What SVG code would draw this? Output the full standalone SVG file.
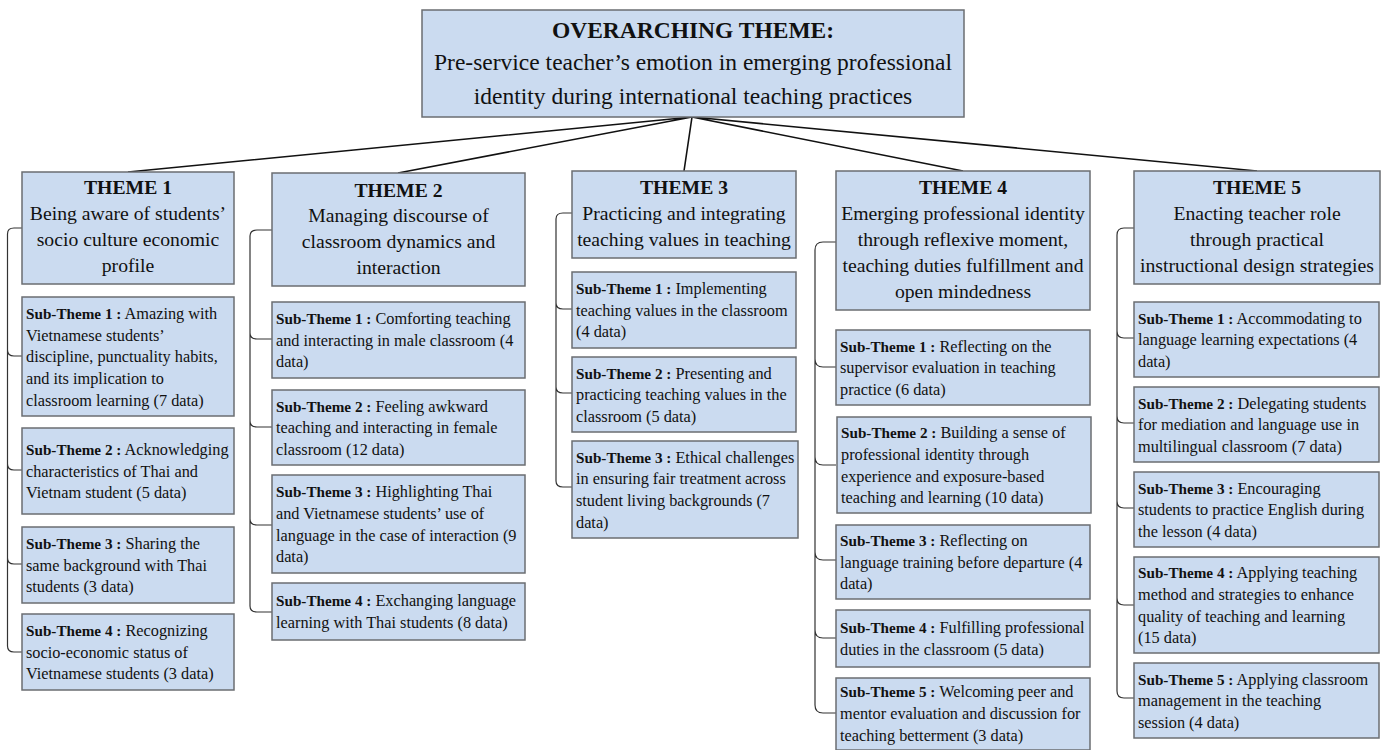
<svg xmlns="http://www.w3.org/2000/svg" width="1383" height="750" viewBox="0 0 1383 750">
<style>
.box{fill:#cbdbf0;stroke:#6b6e72;stroke-width:1.5}
.t{font-family:"Liberation Serif","Times New Roman",serif;fill:#111}
.top{font-size:23.5px;text-anchor:middle}
.th{font-size:19.7px;text-anchor:middle}
.st{font-size:16.3px}
.b{font-weight:bold}
.st .b{font-size:15.2px}
.main{fill:none;stroke:#111;stroke-width:1.6}
.br{fill:none;stroke:#333;stroke-width:1.2}
</style>
<rect width="1383" height="750" fill="#ffffff"/>
<g id="connectors">
<path class="main" d="M692 117 L128 172 M692 117 L398 173 M692 117 L684 171 M692 117 L963 171 M692 117 L1257 171"/>
<path class="br" d="M22 228 H14 Q7.5 228 7.5 234 V350 Q7.5 356 14 356 H22 M7.5 350 V464 Q7.5 470 14 470 H22 M7.5 464 V558 Q7.5 564 14 564 H22 M7.5 558 V646 Q7.5 652 14 652 H22"/>
<path class="br" d="M272 230 H257 Q250 230 250 236 V333 Q250 339 257 339 H272 M250 333 V421 Q250 427 257 427 H272 M250 421 V519 Q250 525 257 525 H272 M250 519 V606 Q250 612 257 612 H272"/>
<path class="br" d="M572 213 H563 Q556 213 556 219 V303 Q556 309 563 309 H572 M556 303 V387 Q556 393 563 393 H572 M556 387 V481 Q556 487 563 487 H572"/>
<path class="br" d="M836 242 H823 Q815 242 815 250 V359 Q815 367 823 367 H836 M815 359 V457 Q815 465 823 465 H836 M815 457 V552 Q815 560 823 560 H836 M815 552 V630 Q815 638 823 638 H836 M815 630 V705 Q815 713 823 713 H836"/>
<path class="br" d="M1134 228 H1124 Q1117 228 1117 235 V331 Q1117 338 1124 338 H1134 M1117 331 V416 Q1117 423 1124 423 H1134 M1117 416 V501 Q1117 508 1124 508 H1134 M1117 501 V598 Q1117 605 1124 605 H1134 M1117 598 V691 Q1117 698 1124 698 H1134"/>
</g>
<g id="overarching">
<rect class="box" x="422" y="10" width="542" height="107"/>
<text class="t top" x="693"><tspan class="b" x="693" y="38">OVERARCHING THEME:</tspan><tspan x="693" y="70">Pre-service teacher’s emotion in emerging professional</tspan><tspan x="693" y="104">identity during international teaching practices</tspan></text>
</g>
<g id="theme1">
<rect class="box" x="22" y="172" width="212" height="112"/>
<text class="t th" x="128"><tspan class="b" x="128" y="194">THEME 1</tspan><tspan x="128" y="220">Being aware of students’</tspan><tspan x="128" y="246">socio culture economic</tspan><tspan x="128" y="272">profile</tspan></text>
</g>
<g id="t1s1">
<rect class="box" x="22" y="297" width="212" height="119"/>
<text class="t st"><tspan x="26" y="318.8"><tspan class="b">Sub-Theme 1 :</tspan> Amazing with</tspan><tspan x="26" y="340.5">Vietnamese students’</tspan><tspan x="26" y="362.2">discipline, punctuality habits,</tspan><tspan x="26" y="383.9">and its implication to</tspan><tspan x="26" y="405.6">classroom learning (7 data)</tspan></text>
</g>
<g id="t1s2">
<rect class="box" x="22" y="428" width="212" height="86"/>
<text class="t st"><tspan x="26" y="455"><tspan class="b">Sub-Theme 2 :</tspan> Acknowledging</tspan><tspan x="26" y="476.7">characteristics of Thai and</tspan><tspan x="26" y="498.4">Vietnam student (5 data)</tspan></text>
</g>
<g id="t1s3">
<rect class="box" x="22" y="527" width="212" height="76"/>
<text class="t st"><tspan x="26" y="549"><tspan class="b">Sub-Theme 3 :</tspan> Sharing the</tspan><tspan x="26" y="570.7">same background with Thai</tspan><tspan x="26" y="592.4">students (3 data)</tspan></text>
</g>
<g id="t1s4">
<rect class="box" x="22" y="614" width="212" height="76"/>
<text class="t st"><tspan x="26" y="636"><tspan class="b">Sub-Theme 4 :</tspan> Recognizing</tspan><tspan x="26" y="657.7">socio-economic status of</tspan><tspan x="26" y="679.4">Vietnamese students (3 data)</tspan></text>
</g>
<g id="theme2">
<rect class="box" x="272" y="173" width="253" height="113"/>
<text class="t th" x="398.5"><tspan class="b" x="398.5" y="197">THEME 2</tspan><tspan x="398.5" y="222">Managing discourse of</tspan><tspan x="398.5" y="248">classroom dynamics and</tspan><tspan x="398.5" y="274">interaction</tspan></text>
</g>
<g id="t2s1">
<rect class="box" x="272" y="302" width="253" height="76"/>
<text class="t st"><tspan x="276" y="324"><tspan class="b">Sub-Theme 1 :</tspan> Comforting teaching</tspan><tspan x="276" y="345.7">and interacting in male classroom (4</tspan><tspan x="276" y="367.4">data)</tspan></text>
</g>
<g id="t2s2">
<rect class="box" x="272" y="390" width="253" height="75"/>
<text class="t st"><tspan x="276" y="411.5"><tspan class="b">Sub-Theme 2 :</tspan> Feeling awkward</tspan><tspan x="276" y="433.2">teaching and interacting in female</tspan><tspan x="276" y="454.9">classroom (12 data)</tspan></text>
</g>
<g id="t2s3">
<rect class="box" x="272" y="475" width="253" height="98"/>
<text class="t st"><tspan x="276" y="497.2"><tspan class="b">Sub-Theme 3 :</tspan> Highlighting Thai</tspan><tspan x="276" y="518.9">and Vietnamese students’ use of</tspan><tspan x="276" y="540.6">language in the case of interaction (9</tspan><tspan x="276" y="562.3">data)</tspan></text>
</g>
<g id="t2s4">
<rect class="box" x="272" y="583" width="253" height="57"/>
<text class="t st"><tspan x="276" y="606.4"><tspan class="b">Sub-Theme 4 :</tspan> Exchanging language</tspan><tspan x="276" y="628.1">learning with Thai students (8 data)</tspan></text>
</g>
<g id="theme3">
<rect class="box" x="572" y="171" width="224" height="87"/>
<text class="t th" x="684"><tspan class="b" x="684" y="194">THEME 3</tspan><tspan x="684" y="220">Practicing and integrating</tspan><tspan x="684" y="246">teaching values in teaching</tspan></text>
</g>
<g id="t3s1">
<rect class="box" x="572" y="272" width="224" height="76"/>
<text class="t st"><tspan x="576" y="294"><tspan class="b">Sub-Theme 1 :</tspan> Implementing</tspan><tspan x="576" y="315.7">teaching values in the classroom</tspan><tspan x="576" y="337.4">(4 data)</tspan></text>
</g>
<g id="t3s2">
<rect class="box" x="572" y="357" width="224" height="75"/>
<text class="t st"><tspan x="576" y="378.5"><tspan class="b">Sub-Theme 2 :</tspan> Presenting and</tspan><tspan x="576" y="400.2">practicing teaching values in the</tspan><tspan x="576" y="421.9">classroom (5 data)</tspan></text>
</g>
<g id="t3s3">
<rect class="box" x="572" y="441" width="226" height="97"/>
<text class="t st"><tspan x="576" y="462.7"><tspan class="b">Sub-Theme 3 :</tspan> Ethical challenges</tspan><tspan x="576" y="484.4">in ensuring fair treatment across</tspan><tspan x="576" y="506.1">student living backgrounds (7</tspan><tspan x="576" y="527.8">data)</tspan></text>
</g>
<g id="theme4">
<rect class="box" x="836" y="171" width="254" height="139"/>
<text class="t th" x="963"><tspan class="b" x="963" y="194">THEME 4</tspan><tspan x="963" y="220">Emerging professional identity</tspan><tspan x="963" y="246">through reflexive moment,</tspan><tspan x="963" y="272">teaching duties fulfillment and</tspan><tspan x="963" y="298">open mindedness</tspan></text>
</g>
<g id="t4s1">
<rect class="box" x="836" y="330" width="254" height="75"/>
<text class="t st"><tspan x="840" y="351.5"><tspan class="b">Sub-Theme 1 :</tspan> Reflecting on the</tspan><tspan x="840" y="373.2">supervisor evaluation in teaching</tspan><tspan x="840" y="394.9">practice (6 data)</tspan></text>
</g>
<g id="t4s2">
<rect class="box" x="837" y="417" width="254" height="96"/>
<text class="t st"><tspan x="841" y="438.2"><tspan class="b">Sub-Theme 2 :</tspan> Building a sense of</tspan><tspan x="841" y="459.9">professional identity through</tspan><tspan x="841" y="481.6">experience and exposure-based</tspan><tspan x="841" y="503.3">teaching and learning (10 data)</tspan></text>
</g>
<g id="t4s3">
<rect class="box" x="836" y="525" width="254" height="74"/>
<text class="t st"><tspan x="840" y="546"><tspan class="b">Sub-Theme 3 :</tspan> Reflecting on</tspan><tspan x="840" y="567.7">language training before departure (4</tspan><tspan x="840" y="589.4">data)</tspan></text>
</g>
<g id="t4s4">
<rect class="box" x="836" y="610" width="254" height="57"/>
<text class="t st"><tspan x="840" y="633.4"><tspan class="b">Sub-Theme 4 :</tspan> Fulfilling professional</tspan><tspan x="840" y="655.1">duties in the classroom (5 data)</tspan></text>
</g>
<g id="t4s5">
<rect class="box" x="836" y="678" width="254" height="72"/>
<text class="t st"><tspan x="840" y="697.4"><tspan class="b">Sub-Theme 5 :</tspan> Welcoming peer and</tspan><tspan x="840" y="719">mentor evaluation and discussion for</tspan><tspan x="840" y="740.7">teaching betterment (3 data)</tspan></text>
</g>
<g id="theme5">
<rect class="box" x="1134" y="171" width="246" height="113"/>
<text class="t th" x="1257"><tspan class="b" x="1257" y="194">THEME 5</tspan><tspan x="1257" y="220">Enacting teacher role</tspan><tspan x="1257" y="246">through practical</tspan><tspan x="1257" y="272">instructional design strategies</tspan></text>
</g>
<g id="t5s1">
<rect class="box" x="1134" y="302" width="245" height="75"/>
<text class="t st"><tspan x="1138" y="323.5"><tspan class="b">Sub-Theme 1 :</tspan> Accommodating to</tspan><tspan x="1138" y="345.2">language learning expectations (4</tspan><tspan x="1138" y="366.9">data)</tspan></text>
</g>
<g id="t5s2">
<rect class="box" x="1134" y="387" width="245" height="75"/>
<text class="t st"><tspan x="1138" y="408.5"><tspan class="b">Sub-Theme 2 :</tspan> Delegating students</tspan><tspan x="1138" y="430.2">for mediation and language use in</tspan><tspan x="1138" y="451.9">multilingual classroom (7 data)</tspan></text>
</g>
<g id="t5s3">
<rect class="box" x="1134" y="472" width="245" height="75"/>
<text class="t st"><tspan x="1138" y="493.5"><tspan class="b">Sub-Theme 3 :</tspan> Encouraging</tspan><tspan x="1138" y="515.2">students to practice English during</tspan><tspan x="1138" y="536.9">the lesson (4 data)</tspan></text>
</g>
<g id="t5s4">
<rect class="box" x="1134" y="557" width="245" height="96"/>
<text class="t st"><tspan x="1138" y="578.2"><tspan class="b">Sub-Theme 4 :</tspan> Applying teaching</tspan><tspan x="1138" y="599.9">method and strategies to enhance</tspan><tspan x="1138" y="621.6">quality of teaching and learning</tspan><tspan x="1138" y="643.3">(15 data)</tspan></text>
</g>
<g id="t5s5">
<rect class="box" x="1134" y="663" width="245" height="75"/>
<text class="t st"><tspan x="1138" y="684.5"><tspan class="b">Sub-Theme 5 :</tspan> Applying classroom</tspan><tspan x="1138" y="706.2">management in the teaching</tspan><tspan x="1138" y="727.9">session (4 data)</tspan></text>
</g>
</svg>
